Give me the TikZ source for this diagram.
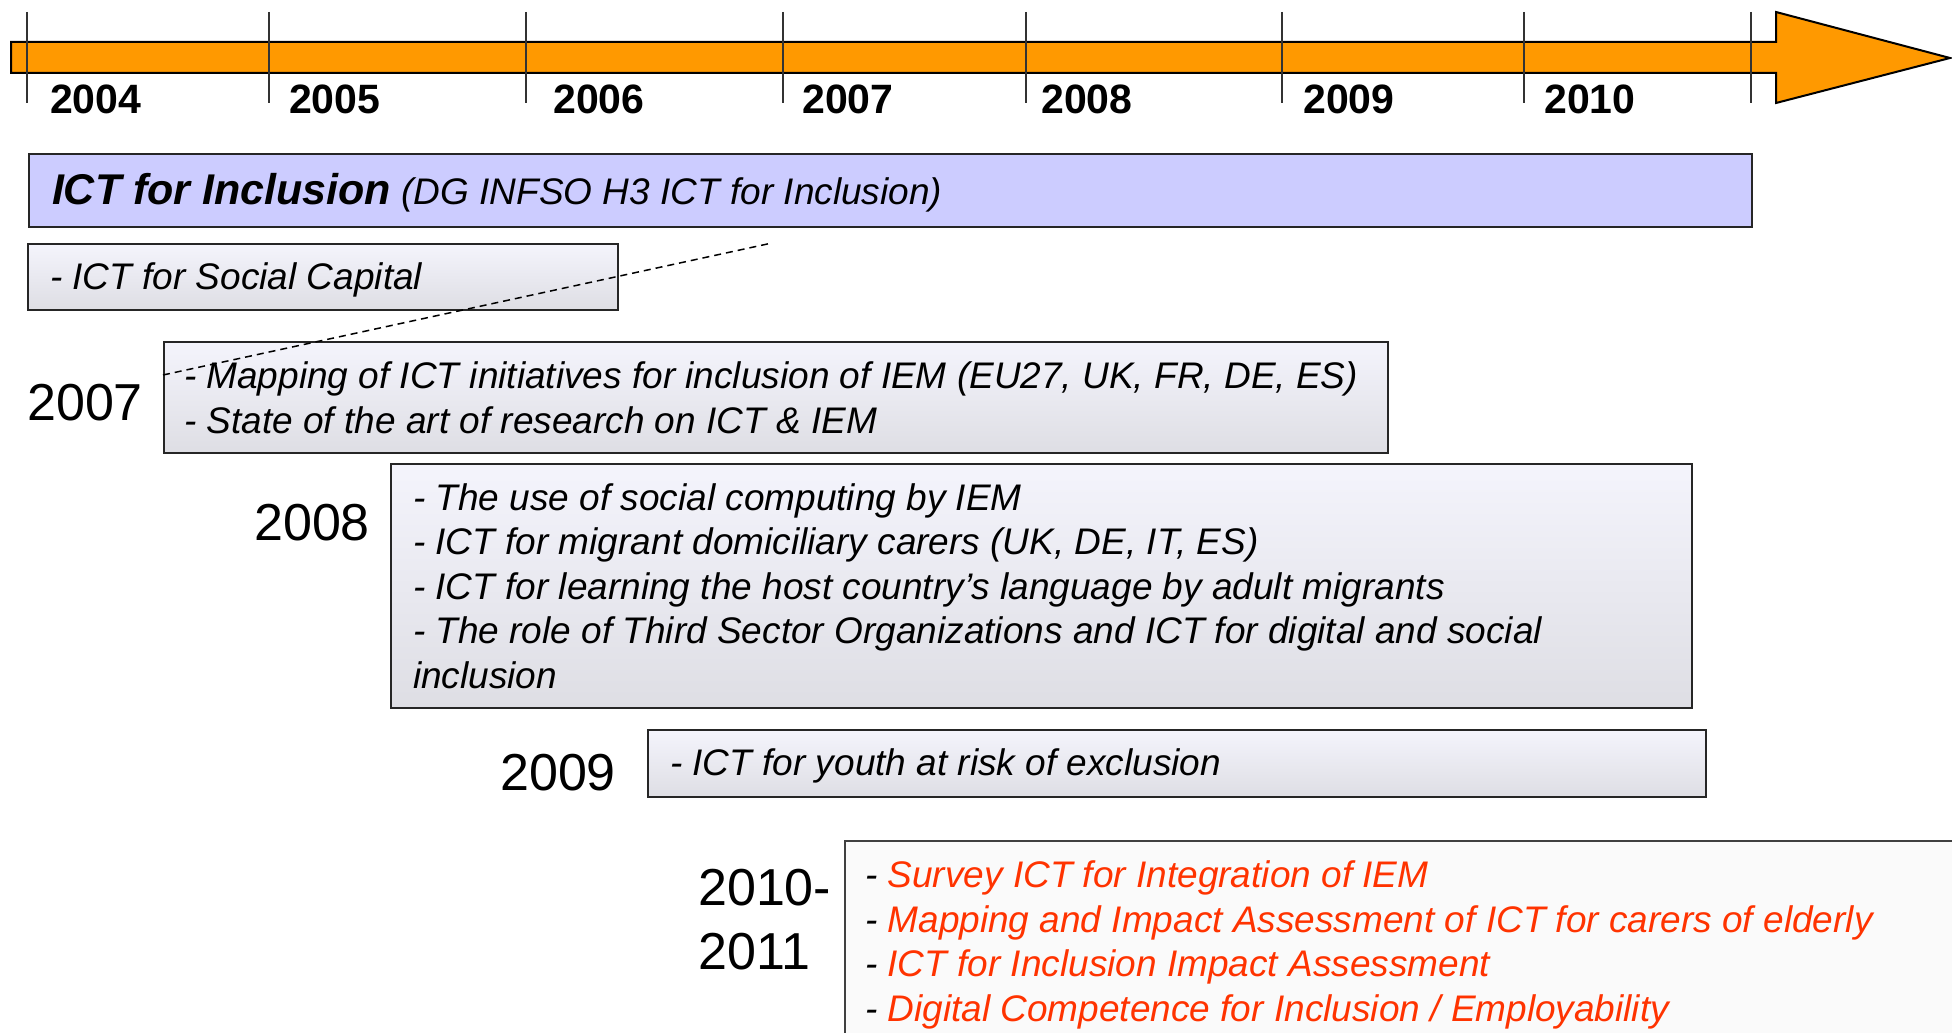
\documentclass[tikz,border=0pt]{standalone}
\usepackage{fontspec}
\setmainfont{Liberation Sans}
\usepackage{tikz}
\definecolor{barorange}{HTML}{FF9900}
\definecolor{inclblue}{HTML}{CCCCFF}
\definecolor{boxtop}{HTML}{F4F4FC}
\definecolor{boxbottom}{HTML}{DEDEE4}
\definecolor{lastfill}{HTML}{FAFAFA}
\definecolor{plannedred}{HTML}{FF3300}
\def\timebar{(11,42) -- (1776,42) -- (1776,12) -- (1950,58) -- (1776,103) -- (1776,73) -- (11,73) -- cycle}
\newcommand{\itemfont}{\fontsize{37}{44.6}\selectfont\itshape}
\newcommand{\yearfont}{\fontsize{52}{64}\selectfont}
\newcommand{\tickfont}{\fontsize{41}{49}\selectfont\bfseries}
\newcommand{\planned}[1]{- \textcolor{plannedred}{#1}}
\newcommand{\lift}[1]{\rule{0pt}{#1pt}}

\tikzset{
	studybox/.style={draw=black!85, line width=2pt, top color=boxtop, bottom color=boxbottom, anchor=north west, inner xsep=22pt, inner ysep=0pt, align=flush left, font=\itemfont},
	inclbox/.style={draw=black!85, line width=2pt, fill=inclblue, anchor=north west, inner xsep=23pt, inner ysep=0pt, align=flush left, font=\itemfont},
	lastbox/.style={draw=black!75, line width=2pt, fill=lastfill, anchor=north west, inner xsep=20pt, inner ysep=0pt, align=flush left, font=\itemfont},
	yearlabel/.style={anchor=base west, inner sep=0pt, font=\yearfont, align=flush left},
	ticklabel/.style={anchor=base west, inner sep=0pt, font=\tickfont}
}

\begin{document}
\begin{tikzpicture}[x=1pt,y=-1pt]
	\useasboundingbox (0,0) rectangle (1952,1033);
	\clip (0,0) rectangle (1952,1033);
	\draw[fill=barorange, line width=2pt] \timebar;
	\foreach \x in {27,269,526,783,1026,1282,1524,1751}
		\draw[line width=1.5pt, black!80] (\x,12) -- (\x,103);
	\foreach \x/\yr in {50/2004,289/2005,553/2006,802/2007,1041/2008,1303/2009,1544/2010}
		\node[ticklabel] (tick\yr) at (\x,113) {\yr};

	\node[inclbox, minimum width=1723pt, minimum height=73pt, text width=1677pt] (incl) at (28,153)
		{\lift{36}{\fontsize{43}{50}\selectfont\bfseries ICT for Inclusion} (DG INFSO H3 ICT for Inclusion)};
	\node[studybox, minimum width=590pt, minimum height=66pt, text width=546pt] (social) at (27,243)
		{\lift{32}- ICT for Social Capital};
	\node[studybox, minimum width=1224pt, minimum height=111pt, text width=1184pt, inner xsep=20pt] (box07) at (163,341)
		{- Mapping of ICT initiatives for inclusion of IEM (EU27, UK, FR, DE, ES)\\
		- State of the art of research on ICT \& IEM};
	\node[studybox, minimum width=1301pt, minimum height=244pt, text width=1257pt] (box08) at (390,463)
		{- The use of social computing by IEM\\
		- ICT for migrant domiciliary carers (UK, DE, IT, ES)\\
		- ICT for learning the host country's language by adult migrants\\
		- The role of Third Sector Organizations and ICT for digital and social\\
		inclusion};
	\node[studybox, minimum width=1058pt, minimum height=67pt, text width=1014pt] (box09) at (647,729)
		{\lift{32}- ICT for youth at risk of exclusion};
	\node[lastbox, minimum width=1200pt, minimum height=208pt, text width=1160pt] (box10) at (844,840)
		{\planned{Survey ICT for Integration of IEM}\\
		\planned{Mapping and Impact Assessment of ICT for carers of elderly}\\
		\planned{ICT for Inclusion Impact Assessment}\\
		\planned{Digital Competence for Inclusion / Employability}};

	\node[yearlabel] (yr07) at (27,420) {2007};
	\node[yearlabel] (yr08) at (254,540) {2008};
	\node[yearlabel] (yr09) at (500,790) {2009};
	\node[yearlabel] (yr10) at (698,969) {2010-\\2011};

	\coordinate (linkA) at ([yshift=-34pt]box07.north west);
	\coordinate (linkB) at (772,243);
	\draw[dash pattern=on 7pt off 5pt, line width=1.5pt] (linkA) -- (linkB);
\end{tikzpicture}
\end{document}
